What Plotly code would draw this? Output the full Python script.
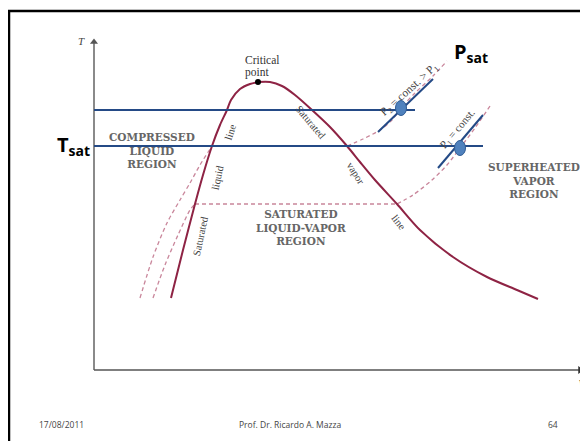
import plotly.graph_objects as go

# ---- data (diagram coordinates: v to the right, T downward-reversed) ----
sat_liq_v = [171, 183, 195, 203, 212, 220, 227, 231, 240, 250, 258]
sat_liq_T = [298, 250, 204, 175, 146, 125, 110, 100, 89, 84, 82]
sat_vap_v = [258, 270, 282, 295, 312, 330, 347, 360, 375, 397, 420, 453, 487, 517, 538]
sat_vap_T = [82, 82, 86, 95, 110, 127, 146, 162, 180, 204, 230, 257, 277, 290, 299]

p1_liq_v = [153, 165, 178, 190, 195]
p1_liq_T = [298, 265, 235, 210, 204]
p1_mix_v = [195, 397]
p1_mix_T = [204, 204]
p1_vap_v = [397, 413, 432, 447, 460, 475, 490]
p1_vap_T = [204, 195, 180, 165, 148, 128, 106]

p2_liq_v = [140, 153, 167, 180, 190, 200, 212]
p2_liq_T = [298, 257, 223, 200, 183, 165, 146]
p2_mix_v = [212, 347]
p2_mix_T = [146, 146]
p2_vap_v = [347, 363, 380, 392, 401, 415, 433, 447]
p2_vap_T = [146, 139, 130, 120, 108, 93, 76, 61]

crit_v, crit_T = [258], [82]

tsat_hi_v, tsat_hi_T = [94, 415], [110, 110]
tsat_lo_v, tsat_lo_T = [94, 483], [146, 146]
tan1_v, tan1_T = [378, 433], [132, 79]
tan2_v, tan2_T = [438, 483], [168, 115]
state_v = [401, 460]
state_T = [108, 148]

axis_T_v, axis_T_T = [94, 94], [370, 42]
axis_v_v, axis_v_T = [94, 580], [370, 370]

region_labels = ["COMPRESSED<br>LIQUID<br>REGION",
                 "SATURATED<br>LIQUID-VAPOR<br>REGION",
                 "SUPERHEATED<br>VAPOR<br>REGION"]
region_v = [152, 301, 534]
region_T = [150, 227, 180]

MAROON = "#8E2344"
PINK = "#C9869B"
BLUE = "#244A86"
GREY = "#5a5a5a"

fig = go.Figure()

def line(x, y, color, width, dash="solid", shape="spline"):
    fig.add_trace(go.Scatter(x=x, y=y, mode="lines", hoverinfo="skip",
                             line=dict(color=color, width=width, dash=dash, shape=shape,
                                       smoothing=0.8)))

# axes
line(axis_T_v, axis_T_T, "#8a8a8a", 2, shape="linear")
line(axis_v_v, axis_v_T, "#555555", 1.5, shape="linear")
fig.add_trace(go.Scatter(x=[axis_T_v[1]], y=[axis_T_T[1]], mode="markers", hoverinfo="skip",
                         marker=dict(symbol="triangle-up", size=7, color="#555555")))
fig.add_trace(go.Scatter(x=[axis_v_v[1]], y=[axis_v_T[1]], mode="markers", hoverinfo="skip",
                         marker=dict(symbol="triangle-right", size=7, color="#333333")))

# constant pressure lines (dashed)
for xs, ys in [(p1_liq_v, p1_liq_T), (p1_mix_v, p1_mix_T), (p1_vap_v, p1_vap_T),
               (p2_liq_v, p2_liq_T), (p2_mix_v, p2_mix_T), (p2_vap_v, p2_vap_T)]:
    line(xs, ys, PINK, 1.3, dash="4px,3px")

# saturation dome
line(sat_liq_v, sat_liq_T, MAROON, 2)
line(sat_vap_v, sat_vap_T, MAROON, 2)

fig.add_trace(go.Scatter(x=crit_v, y=crit_T, mode="markers", hoverinfo="skip",
                         marker=dict(color="black", size=6)))

# blue overlay lines
for xs, ys in [(tsat_hi_v, tsat_hi_T), (tsat_lo_v, tsat_lo_T), (tan1_v, tan1_T), (tan2_v, tan2_T)]:
    line(xs, ys, BLUE, 2, shape="linear")

# state ellipses
for cx, cy in zip(state_v, state_T):
    fig.add_shape(type="circle", xref="x", yref="y", x0=cx - 5.5, x1=cx + 5.5,
                  y0=cy - 7.5, y1=cy + 7.5, fillcolor="#4F81BD",
                  line=dict(color="#2F5B93", width=1))

# slide frame
fig.add_shape(type="rect", xref="x", yref="y", x0=9, y0=11, x1=620, y1=470,
              line=dict(color="black", width=2.5))

SERIF = "Liberation Serif"

def label(x, y, text, size=11, color=GREY, angle=0, family=SERIF, xanchor="center"):
    fig.add_annotation(x=x, y=y, xref="x", yref="y", text=text, showarrow=False,
                       textangle=angle, xanchor=xanchor, yanchor="middle",
                       font=dict(family=family, size=size, color=color))

label(81, 41, "<i>T</i>", 11, "#444444")
label(577, 382, "<i>v</i>", 12, "#222222", xanchor="left")
label(243, 60, "Critical", 11.5, "#333333", xanchor="left")
label(243, 72, "point", 11.5, "#333333", xanchor="left")

for txt, vx, ty in zip(region_labels, region_v, region_T):
    label(vx, ty, "<b>" + txt + "</b>", 10.5, "#666666", family="DejaVu Serif")

label(200, 236, "Saturated", 10.5, "#444444", -78)
label(217, 178, "liquid", 10.5, "#444444", -78)
label(230, 132, "line", 10.5, "#444444", -72)
label(311, 122, "Saturated", 10.5, "#444444", 50)
label(356, 173, "vapor", 10.5, "#444444", 58)
label(399, 222, "line", 10.5, "#444444", 52)
label(409, 90, "P<sub>2</sub> = const. &gt; P<sub>1</sub>", 11.5, "#444444", -42)
label(458, 129, "P<sub>1</sub> = const.", 11, "#444444", -50)

SANS = "Open Sans"
label(73, 145, "<b>T<sub>sat</sub></b>", 20, "black", family=SANS)
label(471, 52, "<b>P<sub>sat</sub></b>", 20, "black", family=SANS)

label(61, 424, "17/08/2011", 8.5, "#444444", family=SANS)
label(290, 424, "Prof. Dr. Ricardo A. Mazza", 8.5, "#444444", family=SANS)
label(553, 424, "64", 8.5, "#444444", family=SANS)

# page body has an 8px margin: figure occupies screen pixels 8..588, 8..441
fig.update_layout(width=580, height=433, margin=dict(l=0, r=0, t=0, b=0),
                  paper_bgcolor="white", plot_bgcolor="white", showlegend=False,
                  xaxis=dict(range=[8, 588], visible=False, fixedrange=True),
                  yaxis=dict(range=[441, 8], visible=False, fixedrange=True))

fig.write_html("out.html")
